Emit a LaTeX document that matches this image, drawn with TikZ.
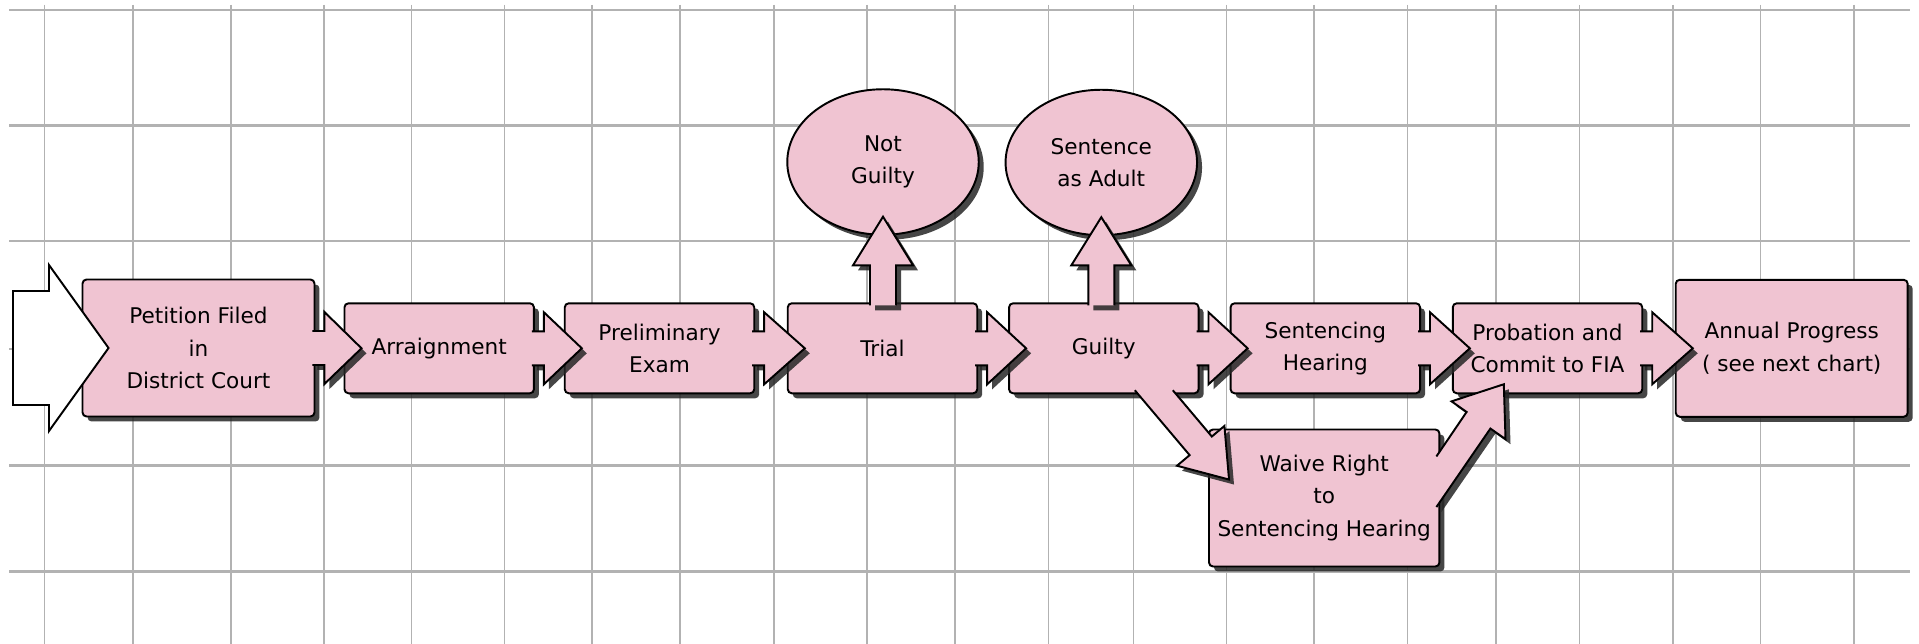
\documentclass[tikz,border=0pt]{standalone}
\usepackage{fontspec}
\setmainfont{DejaVu Sans}
\usetikzlibrary{calc,shapes.geometric,shadows}

\definecolor{stagepink}{RGB}{240,196,210}

\tikzset{
  castshadow/.style={drop shadow={opacity=0.85, fill=black!85, shadow xshift=0.1cm, shadow yshift=-0.1cm}},
  stage/.style={draw=black, line width=1.1pt, fill=stagepink, rounded corners=0.08cm,
    minimum width=3.79cm, minimum height=1.8cm, inner sep=2pt, align=center,
    font=\fontsize{12.3}{18.5}\selectfont, castshadow},
  bigstage/.style={stage, minimum width=4.64cm, minimum height=2.74cm},
  outcome/.style={stage, ellipse, sharp corners, minimum width=3.83cm, minimum height=2.91cm},
  fatarrow/.style={draw=black, line width=1.1pt, fill=stagepink, line join=miter, castshadow},
  entryarrow/.style={draw=black, line width=1.1pt, fill=white, line join=miter},
  gridv/.style={black!30, line width=0.03cm},
  gridh/.style={black!30, line width=0.05cm}
}

% fat arrow from the right side of #1 into the left side of #2
\newcommand{\hblockarrow}[2]{%
  \filldraw[fatarrow] ($(#1.east)+(-3,-17)$) -- ($(#1.east)+(9,-17)$) -- ($(#1.east)+(9,-36)$)
    -- ($(#2.west)+(18,0)$) -- ($(#1.east)+(9,36)$) -- ($(#1.east)+(9,17)$) -- ($(#1.east)+(-3,17)$);}

% fat arrow from the top of #1 up into the bottom of #2
\newcommand{\vblockarrow}[2]{%
  \filldraw[fatarrow] ($(#1.north -| #2.south)+(-13,3)$) -- ($(#1.north -| #2.south)+(-13,-37)$)
    -- ($(#1.north -| #2.south)+(-30,-37)$) -- ($(#2.south)+(0,-19)$)
    -- ($(#1.north -| #2.south)+(30,-37)$) -- ($(#1.north -| #2.south)+(13,-37)$)
    -- ($(#1.north -| #2.south)+(13,3)$);}

\begin{document}
\begin{tikzpicture}[x=0.02cm, y=-0.02cm]
    % Page and margins
    \fill[white] (0,0) rectangle (1919,644);
    \useasboundingbox (0,0) rectangle (1919,644);

    % Draw the grid
    \foreach \gx in {44.7,132.9,230.9,324,411.5,504.6,592,680,774,867,955,1048.5,1133.3,1226.5,1314,1407.6,1495.8,1579.7,1672.8,1760.4,1854}
      \draw[gridv] (\gx,5) -- (\gx,644);
    \foreach \gy in {10,125.7,241,349,465.7,571.7}
      \draw[gridh] (9,\gy) -- (1910,\gy);

    % Stages of the case
    \node[bigstage] (pet) at (198.5,348) {Petition Filed\\in\\District Court};
    \node[stage] (arr) at (439.2,348.3) {Arraignment};
    \node[stage] (pre) at (659.5,348.3) {Preliminary\\Exam};
    \node[stage] (tri) at (882.5,348.3) {Trial};
    \node[stage] (gui) at (1103.8,348.3) {Guilty};
    \node[stage] (sen) at (1325.3,348.3) {Sentencing\\Hearing};
    \node[stage] (pro) at (1547.5,348.3) {Probation and\\Commit to FIA};
    \node[bigstage] (ann) at (1791.7,348.3) {Annual Progress\\( see next chart)};
    \node[bigstage, minimum width=4.61cm] (wai) at (1324.2,498) {Waive Right\\to\\Sentencing Hearing};

    % Outcomes above
    \node[outcome] (ngu) at (883,162) {Not\\Guilty};
    \node[outcome] (adu) at (1101.3,162.5) {Sentence\\as Adult};

    % Entry arrow
    \coordinate (entry) at (13,348);
    \draw[entryarrow] ($(entry)+(0,-57)$) -- ($(entry)+(36,-57)$) -- ($(entry)+(36,-83)$)
      -- ($(pet.west)+(27,0)$) -- ($(entry)+(36,83)$) -- ($(entry)+(36,57)$) -- ($(entry)+(0,57)$) -- cycle;

    % Main line
    \hblockarrow{pet}{arr}
    \hblockarrow{arr}{pre}
    \hblockarrow{pre}{tri}
    \hblockarrow{tri}{gui}
    \hblockarrow{gui}{sen}
    \hblockarrow{sen}{pro}
    \hblockarrow{pro}{ann}

    % Up to the outcomes
    \vblockarrow{tri}{ngu}
    \vblockarrow{gui}{adu}

    % Guilty to waive
    \coordinate (waitip) at ($(wai.north west)+(21,51)$);
    \filldraw[fatarrow] ($(gui.south)+(31,-4)$) -- ($(waitip)+(-39.4,-24.4)$) -- ($(waitip)+(-52,-13.8)$)
      -- (waitip) -- ($(waitip)+(-4.6,-53.6)$) -- ($(waitip)+(-17.2,-43)$) -- ($(gui.south)+(69,-4)$);

    % Waive to probation
    \coordinate (protip) at ($(pro.south west)+(52,-10)$);
    \filldraw[fatarrow] ($(wai.north east)+(-4,78.5)$) -- ($(protip)+(-13.4,44.3)$) -- ($(protip)+(1.7,54.9)$)
      -- (protip) -- ($(protip)+(-52.3,17.1)$) -- ($(protip)+(-37.2,27.7)$) -- ($(wai.north east)+(-4,27.9)$);
\end{tikzpicture}
\end{document}
